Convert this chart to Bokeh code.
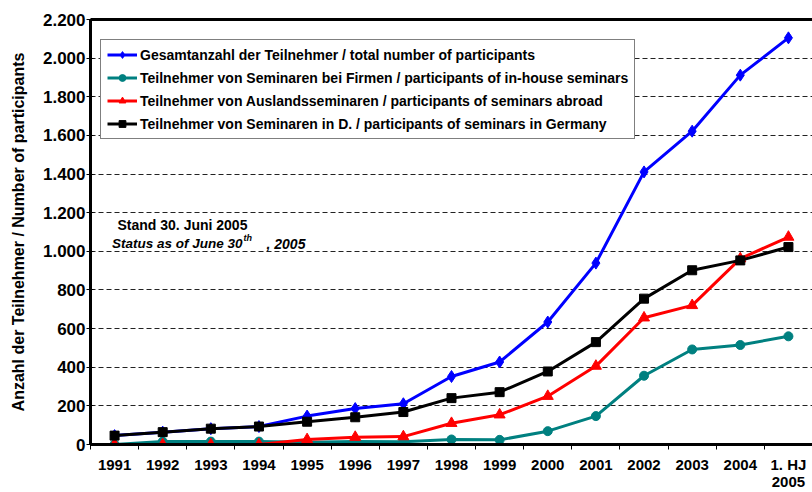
import math
from bokeh.plotting import figure
from bokeh.models import (Range1d, FixedTicker, LinearAxis, Label, Legend,
                          LegendItem, ColumnDataSource)
from bokeh.embed import file_html
from bokeh.resources import INLINE

# ---- data ----
categories = ["1991", "1992", "1993", "1994", "1995", "1996", "1997", "1998",
              "1999", "2000", "2001", "2002", "2003", "2004", "1. HJ\n2005"]
total = [46, 64, 82, 93, 147, 186, 211, 352, 427, 634, 939, 1411, 1622, 1912, 2105]
inhouse = [0, 15, 15, 15, 12, 15, 14, 26, 24, 69, 147, 356, 492, 515, 560]
abroad = [0, 0, 0, 0, 26, 38, 41, 110, 154, 250, 406, 656, 720, 962, 1074]
germany = [46, 64, 82, 93, 118, 141, 168, 240, 271, 378, 530, 755, 902, 953, 1022]
y_ticks = [0, 200, 400, 600, 800, 1000, 1200, 1400, 1600, 1800, 2000, 2200]
y_tick_labels = ["0", "200", "400", "600", "800", "1.000", "1.200", "1.400",
                 "1.600", "1.800", "2.000", "2.200"]
series_names = [
    "Gesamtanzahl der Teilnehmer / total number of participants",
    "Teilnehmer von Seminaren bei Firmen / participants of in-house seminars",
    "Teilnehmer von Auslandsseminaren / participants of seminars abroad",
    "Teilnehmer von Seminaren in D. / participants of seminars in Germany",
]
y_title = "Anzahl der Teilnehmer / Number of participants"

FONT = "Liberation Sans"
xs = [i + 0.5 for i in range(len(categories))]

p = figure(width=812, height=492, output_backend="svg", toolbar_location=None,
           x_range=Range1d(0, len(categories)), y_range=Range1d(0, 2200),
           min_border_left=90, min_border_right=0, min_border_top=19,
           min_border_bottom=48)
p.outline_line_color = None
p.background_fill_color = "white"
p.border_fill_color = "white"

# x axis (categories centred, ticks between them)
xa = p.xaxis[0]
xa.ticker = FixedTicker(ticks=xs, minor_ticks=list(range(len(categories) + 1)))
xa.major_label_overrides = {x: c for x, c in zip(xs, categories)}
xa.major_tick_out = 0
xa.major_tick_in = 0
xa.major_tick_line_color = None
xa.minor_tick_out = 5
xa.minor_tick_in = 0
xa.minor_tick_line_color = "black"
xa.minor_tick_line_width = 1
xa.axis_line_width = 3
xa.axis_line_color = "black"
xa.major_label_standoff = 6
xa.major_label_text_font = FONT
xa.major_label_text_font_style = "bold"
xa.major_label_text_font_size = "15px"
xa.major_label_text_line_height = 1.0
xa.major_label_text_color = "black"

# y axis
ya = p.yaxis[0]
ya.ticker = FixedTicker(ticks=y_ticks)
ya.major_label_overrides = {t: l for t, l in zip(y_ticks, y_tick_labels)}
ya.major_tick_out = 4
ya.major_tick_in = 3
ya.major_tick_line_color = "black"
ya.major_tick_line_width = 1
ya.minor_tick_line_color = None
ya.axis_line_width = 3
ya.axis_line_color = "black"
ya.major_label_standoff = 1
ya.major_label_text_font = FONT
ya.major_label_text_font_style = "bold"
ya.major_label_text_font_size = "17px"
ya.major_label_text_color = "black"
ya.axis_label = y_title
ya.axis_label_standoff = 13
ya.axis_label_text_font = FONT
ya.axis_label_text_font_style = "bold"
ya.axis_label_text_font_size = "16px"
ya.axis_label_text_color = "black"

# top frame line
top = LinearAxis(ticker=FixedTicker(ticks=[]), axis_line_width=3,
                 axis_line_color="black", major_tick_line_color=None,
                 minor_tick_line_color=None, major_label_text_font_size="0px",
                 major_label_standoff=0, major_tick_out=0, major_tick_in=0)
p.add_layout(top, "above")

p.xgrid.visible = False
p.ygrid.grid_line_color = "#222222"
p.ygrid.grid_line_dash = "5 3"
p.ygrid.grid_line_width = 1

# series
specs = [
    (total, "blue", "diamond", 12),
    (inhouse, "#008080", "circle", 9),
    (abroad, "red", "triangle", 11),
    (germany, "black", "square", 9),
]
items = []
for (vals, color, marker, size), name in zip(specs, series_names):
    src = ColumnDataSource(dict(x=xs, y=vals))
    ln = p.line("x", "y", source=src, line_color=color, line_width=3)
    sc = p.scatter("x", "y", source=src, marker=marker, size=size,
                   fill_color=color, line_color=color)
    items.append(LegendItem(label=name, renderers=[ln, sc]))

legend = Legend(items=items, location=(10, 305), margin=0, padding=6,
                spacing=6, label_height=17, glyph_height=17, glyph_width=30,
                label_standoff=3, border_line_color="black",
                border_line_width=1, background_fill_color="white",
                background_fill_alpha=1,
                label_text_font=FONT, label_text_font_style="bold",
                label_text_font_size="14px", label_text_color="black")
p.add_layout(legend)

# annotation text
ann = dict(x_units="screen", y_units="screen", text_baseline="middle",
           text_font=FONT, text_color="black")
p.add_layout(Label(x=27, y=220, text="Stand 30. Juni 2005", text_align="left",
                   text_font_style="bold", text_font_size="14px", **ann))
p.add_layout(Label(x=152, y=201, text="Status as of June 30", text_align="right",
                   text_font_style="bold italic", text_font_size="13.5px", **ann))
p.add_layout(Label(x=153, y=207, text="th", text_align="left",
                   text_font_style="bold italic", text_font_size="9px", **ann))
p.add_layout(Label(x=176, y=201, text=", 2005", text_align="left",
                   text_font_style="bold italic", text_font_size="14px", **ann))

open("out.html", "w").write(file_html(p, INLINE))
